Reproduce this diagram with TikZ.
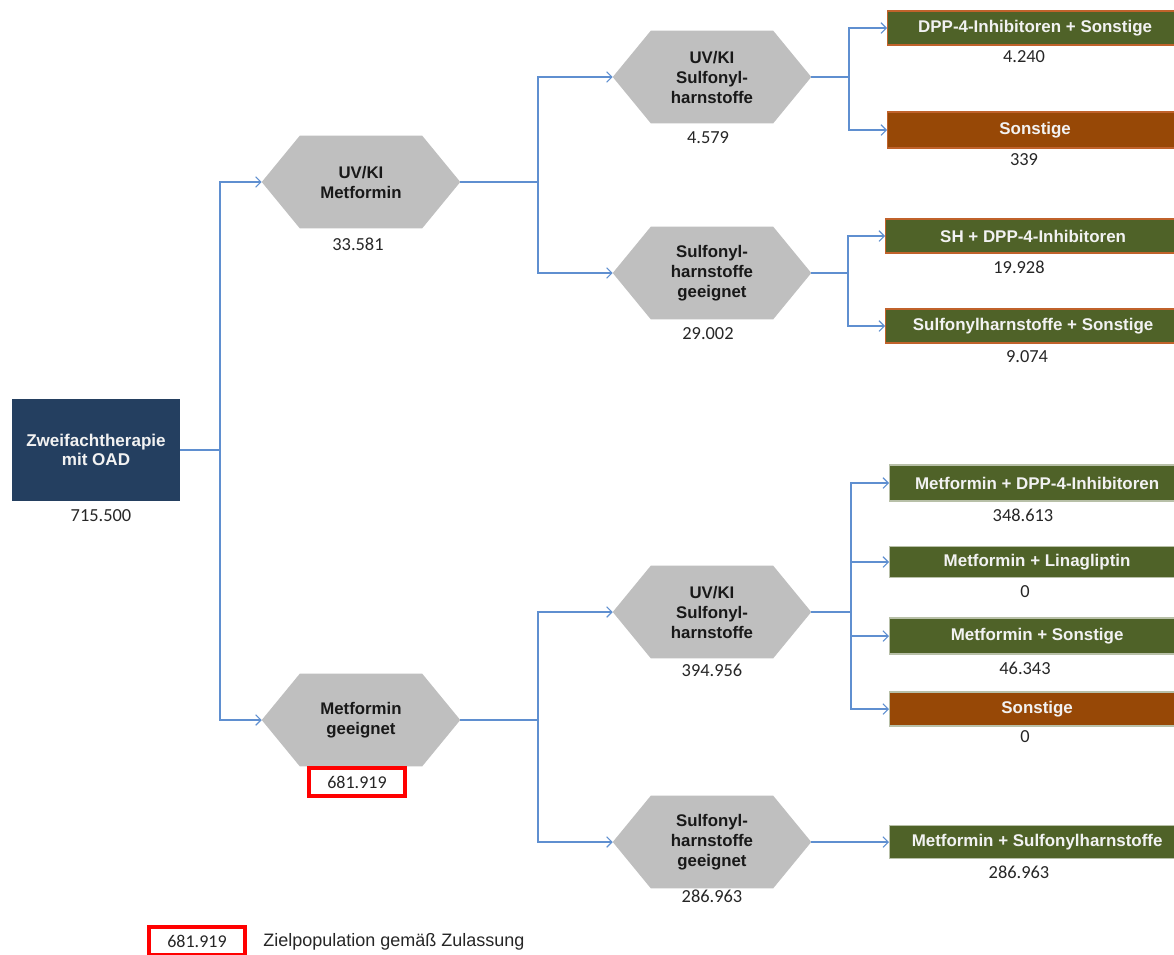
\documentclass[tikz,border=0pt]{standalone}
\usepackage{fontspec}
\setmainfont{Liberation Sans}
\newfontfamily\numfont{Carlito}
\usetikzlibrary{arrows.meta,calc,backgrounds}
\definecolor{navy}{HTML}{243F60}
\definecolor{hexgray}{HTML}{BFBFBF}
\definecolor{olive}{HTML}{4F6228}
\definecolor{rust}{HTML}{974806}
\definecolor{edgeorange}{HTML}{C0622B}
\definecolor{edgelight}{HTML}{B8C0A8}
\definecolor{conn}{HTML}{5F8FD0}
\definecolor{numtext}{HTML}{262626}
\definecolor{redline}{HTML}{FF0000}
\begin{document}
\begin{tikzpicture}[x=0.75pt,y=-0.75pt,
  hexbox/.style={minimum width=148.5pt, minimum height=69pt, inner sep=0pt, align=center,
    font=\fontsize{12.6}{15}\selectfont\bfseries, text=black!90},
  rootbox/.style={fill=navy, minimum width=126pt, minimum height=76.5pt, inner sep=0pt, align=center,
    font=\fontsize{12.8}{14.3}\selectfont\bfseries, text=white!95!black},
  rbox/.style={anchor=west, minimum width=221.25pt, minimum height=25.5pt, inner sep=0pt,
    font=\fontsize{12.7}{14}\selectfont\bfseries, text=white!95!black, line width=0.9pt},
  gbox/.style={rbox, fill=olive, draw=edgelight},
  gboxo/.style={rbox, fill=olive, draw=edgeorange},
  bboxo/.style={rbox, fill=rust, draw=edgeorange},
  bbox/.style={rbox, fill=rust, draw=edgelight},
  num/.style={inner sep=0pt, font=\numfont\fontsize{13.8}{16}\selectfont, text=numtext},
  redbox/.style={draw=redline, line width=3pt, minimum width=72pt, minimum height=21pt, inner sep=0pt,
    font=\numfont\fontsize{13.5}{16}\selectfont, text=numtext},
  ln/.style={draw=conn, line width=0.9pt},
  ar/.style={ln, -{Straight Barb[length=4pt,width=8pt,line width=0.8pt]}}
]
\useasboundingbox (0,0) rectangle (1174,954);
\clip (0,0) rectangle (1174,954);

% root
\node[rootbox] (root) at (96,450) {Zweifachtherapie\\mit OAD};
\node[num] (lroot) at (101,516) {715.500};

% hexagons
\node[hexbox] (h1) at (361,182) {UV/KI\\Metformin};
\node[hexbox] (h2) at (361,720) {Metformin\\geeignet};
\node[hexbox] (h3) at (712,77) {UV/KI\\Sulfonyl-\\harnstoffe};
\node[hexbox] (h4) at (712,273) {Sulfonyl-\\harnstoffe\\geeignet};
\node[hexbox] (h5) at (712,612) {UV/KI\\Sulfonyl-\\harnstoffe};
\node[hexbox] (h6) at (712,842) {Sulfonyl-\\harnstoffe\\geeignet};

\begin{scope}[on background layer]
\foreach \n in {h1,h2,h3,h4,h5,h6}
  \fill[hexgray] (\n.west) -- ($(\n.north west)+(38,0)$) -- ($(\n.north east)+(-38,0)$)
    -- (\n.east) -- ($(\n.south east)+(-38,0)$) -- ($(\n.south west)+(38,0)$) -- cycle;
\end{scope}

\node[num] (l1) at (358,244) {33.581};
\node[redbox] (l2) at (357,782) {681.919};
\node[num] (l3) at (708,138) {4.579};
\node[num] (l4) at (708,334) {29.002};
\node[num] (l5) at (712,670) {394.956};
\node[num] (l6) at (712,896) {286.963};

% result boxes
\node[gboxo] (b1) at (887,28) {DPP-4-Inhibitoren + Sonstige};
\node[bboxo, minimum height=27pt] (b2) at (887,130) {Sonstige};
\node[gboxo] (b3) at (885,236) {SH + DPP-4-Inhibitoren};
\node[gboxo] (b4) at (885,326) {Sulfonylharnstoffe + Sonstige};
\node[gbox, minimum height=27pt] (b5) at (889,483) {Metformin + DPP-4-Inhibitoren};
\node[gbox, minimum height=23pt] (b6) at (889,562) {Metformin + Linagliptin};
\node[gbox, minimum height=27pt] (b7) at (889,636) {Metformin + Sonstige};
\node[bbox] (b8) at (889,709) {Sonstige};
\node[gbox, minimum height=25pt] (b9) at (889,842) {Metformin + Sulfonylharnstoffe};

\node[num] (n1) at (1024,57) {4.240};
\node[num] (n2) at (1024,160) {339};
\node[num] (n3) at (1019,267) {19.928};
\node[num] (n4) at (1027,357) {9.074};
\node[num] (n5) at (1023,515) {348.613};
\node[num] (n6) at (1025,592) {0};
\node[num] (n7) at (1025,668) {46.343};
\node[num] (n8) at (1025,737) {0};
\node[num] (n9) at (1019,872) {286.963};

% connectors
\coordinate (c0) at (220,450);
\coordinate (c1) at (538,182);
\coordinate (c2) at (538,720);
\coordinate (c3) at (849,77);
\coordinate (c4) at (848,273);
\coordinate (c5) at (851,612);

\draw[ln] (root.east) -- (c0);
\draw[ar] (c0) |- (h1.west);
\draw[ar] (c0) |- (h2.west);

\draw[ln] (h1.east) -- (c1);
\draw[ar] (c1) |- (h3.west);
\draw[ar] (c1) |- (h4.west);

\draw[ln] (h2.east) -- (c2);
\draw[ar] (c2) |- (h5.west);
\draw[ar] (c2) |- (h6.west);

\draw[ln] (h3.east) -- (c3);
\draw[ar] (c3) |- (b1.west);
\draw[ar] (c3) |- (b2.west);

\draw[ln] (h4.east) -- (c4);
\draw[ar] (c4) |- (b3.west);
\draw[ar] (c4) |- (b4.west);

\draw[ln] (h5.east) -- (c5);
\draw[ar] (c5) |- (b5.west);
\draw[ar] (c5) |- (b6.west);
\draw[ar] (c5) |- (b7.west);
\draw[ar] (c5) |- (b8.west);

\draw[ar] (h6.east) -- (b9.west);

% legend
\node[redbox] (lg) at (197,941) {681.919};
\node[anchor=west, inner sep=0pt, font=\fontsize{13.5}{16}\selectfont, text=numtext] (lgt) at (263,942) {Zielpopulation gemäß Zulassung};
\end{tikzpicture}
\end{document}
